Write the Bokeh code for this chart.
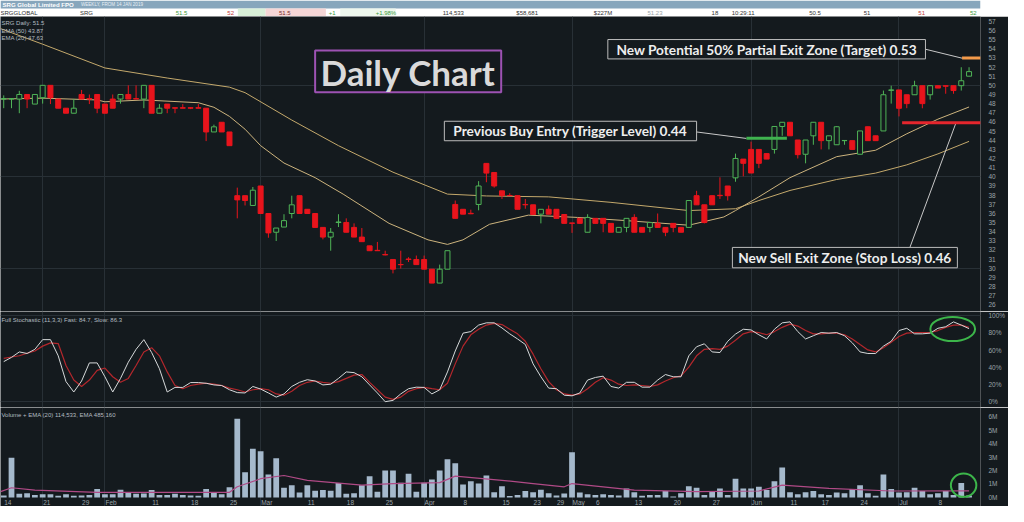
from bokeh.plotting import figure
from bokeh.layouts import column
from bokeh.models import ColumnDataSource, FixedTicker, Range1d, Grid
from bokeh.core.properties import value
from bokeh.embed import file_html
from bokeh.resources import INLINE

# ---------------- data (prices in cents) ----------------
opens = [48.5, 48.5, 48.5, 49.0, 47.95, 48.65, 50.0, 48.5, 47.5, 46.95,
         49.0, 48.55, 49.0, 47.95, 48.5, 48.5, 49.0, 48.55, 48.5, 50.0,
         46.95, 47.95, 47.55, 47.55, 47.55, 47.55, 47.5, 44.9, 45.96, 44.9,
         37.93, 37.93, 36.86, 38.99, 35.98, 33.93, 34.5, 35.98, 37.93, 36.44,
         35.98, 34.46, 33.4, 35.0, 35.0, 34.46, 33.4, 32.44, 31.95, 31.5,
         30.95, 30.4, 31.0, 30.95, 30.95, 29.89, 28.37, 29.89, 36.97, 36.44,
         36.0, 36.97, 41.46, 40.47, 38.46, 37.95, 37.93, 36.97, 36.93, 35.91,
         36.44, 36.44, 35.87, 34.95, 35.45, 33.93, 35.45, 35.45, 34.9, 33.93,
         34.46, 35.55, 34.46, 34.46, 34.9, 34.46, 34.9, 34.46, 34.46, 37.93,
         36.93, 37.93, 37.97, 38.99, 39.88, 41.93, 42.99, 42.99, 42.53, 42.99,
         45.5, 45.96, 44.02, 42.46, 44.48, 45.96, 43.95, 43.5, 43.95, 43.95,
         42.46, 45.47, 44.48, 45.01, 49.45, 49.5, 48.97, 48.97, 49.96, 48.97,
         49.96, 49.96, 49.96, 49.96, 51.0]
highs = [48.9, 48.55, 49.4, 49.0, 49.0, 50.0, 50.0, 48.5, 47.5, 48.5,
         49.5, 49.0, 49.0, 47.95, 49.0, 49.0, 50.0, 50.0, 50.0, 50.0,
         47.95, 47.95, 47.55, 47.95, 47.6, 47.95, 47.5, 45.7, 45.96, 44.9,
         38.81, 37.93, 38.88, 38.99, 35.98, 34.39, 35.9, 37.93, 37.93, 36.44,
         35.98, 34.46, 34.39, 35.9, 35.45, 34.9, 34.39, 32.44, 32.87, 31.91,
         30.95, 31.91, 31.2, 31.38, 31.38, 29.89, 30.39, 31.91, 37.4, 36.44,
         36.4, 39.52, 41.46, 40.47, 38.46, 38.2, 37.93, 37.57, 36.93, 36.44,
         36.86, 36.44, 35.87, 34.95, 35.45, 35.9, 35.45, 35.45, 34.9, 34.46,
         35.45, 35.9, 34.46, 34.99, 35.98, 34.46, 34.9, 34.46, 37.4, 38.46,
         36.93, 37.93, 39.94, 38.99, 42.53, 41.93, 43.84, 42.99, 42.53, 45.54,
         45.96, 45.96, 44.02, 44.02, 45.96, 45.96, 44.48, 45.54, 43.97, 43.95,
         45.01, 45.47, 44.48, 49.43, 49.96, 49.5, 48.97, 50.5, 49.96, 49.96,
         49.96, 49.96, 49.96, 51.98, 51.98]
lows = [47.5, 47.5, 46.95, 47.5, 47.95, 48.0, 47.95, 47.5, 46.95, 46.95,
        48.5, 47.95, 46.95, 46.95, 47.5, 48.0, 48.5, 48.5, 47.5, 46.95,
        46.95, 46.95, 46.95, 47.5, 47.4, 47.5, 43.9, 44.9, 44.9, 43.4,
        35.45, 36.86, 36.86, 35.98, 33.33, 32.97, 34.5, 35.45, 35.98, 35.98,
        34.46, 33.15, 31.91, 34.5, 33.93, 33.4, 32.9, 31.91, 31.91, 31.4,
        29.43, 29.96, 30.67, 30.39, 29.89, 28.37, 28.37, 29.89, 35.45, 35.91,
        35.91, 36.33, 39.4, 38.81, 37.57, 37.9, 36.44, 36.5, 35.87, 34.9,
        35.91, 35.45, 34.9, 33.86, 34.9, 33.93, 34.9, 33.93, 33.93, 33.93,
        33.93, 33.93, 33.93, 33.93, 34.46, 33.5, 33.93, 33.93, 34.46, 36.93,
        34.9, 36.93, 37.57, 37.4, 39.45, 40.05, 40.41, 40.94, 41.93, 42.53,
        44.48, 44.48, 42.0, 41.47, 43.5, 42.99, 42.99, 43.5, 43.5, 42.99,
        42.46, 43.95, 43.95, 45.01, 48.0, 46.6, 47.5, 48.97, 47.49, 48.44,
        49.7, 49.08, 49.08, 49.43, 51.0]
closes = [48.55, 48.55, 49.0, 48.5, 49.0, 50.0, 48.65, 47.5, 46.95, 47.5,
          48.5, 48.5, 47.5, 46.95, 47.5, 49.0, 48.5, 48.5, 50.0, 46.95,
          47.5, 47.5, 47.5, 47.5, 47.5, 47.5, 44.9, 45.46, 44.9, 43.4,
          37.47, 37.4, 38.53, 35.98, 33.86, 34.39, 35.2, 36.93, 35.98, 35.98,
          34.46, 33.4, 33.93, 35.05, 33.93, 33.4, 32.9, 31.91, 31.91, 31.45,
          29.89, 30.38, 30.95, 30.39, 29.89, 28.37, 29.89, 31.91, 35.45, 35.91,
          35.95, 38.99, 40.4, 38.99, 37.93, 37.93, 36.44, 36.93, 35.87, 36.44,
          35.91, 35.45, 34.9, 34.9, 34.9, 35.55, 34.9, 34.9, 33.93, 34.46,
          35.45, 33.93, 33.93, 34.99, 34.46, 33.93, 34.46, 33.93, 37.4, 36.93,
          34.99, 36.93, 37.93, 37.93, 42.0, 41.47, 40.41, 41.47, 41.93, 45.5,
          45.96, 44.48, 42.42, 44.02, 45.96, 43.95, 44.48, 45.47, 43.97, 42.99,
          45.01, 43.95, 43.95, 48.97, 49.5, 47.49, 48.0, 49.96, 48.0, 49.96,
          49.7, 49.9, 49.43, 50.5, 51.5]
volume_m = [0.14, 2.95, 0.27, 0.31, 0.19, 0.24, 0.24, 0.12, 0.24, 0.12,
            0.14, 0.19, 0.63, 0.24, 0.24, 0.58, 0.36, 0.27, 0.29, 0.55,
            0.19, 0.19, 0.27, 0.19, 0.14, 0.12, 0.63, 0.38, 0.24, 0.75,
            5.83, 1.87, 3.62, 3.43, 1.71, 2.9, 0.72, 0.91, 0.36, 0.91,
            0.5, 0.55, 0.5, 1.08, 0.27, 0.31, 0.91, 1.58, 0.43, 1.99,
            1.99, 1.1, 1.75, 0.43, 1.1, 1.34, 1.99, 2.83, 2.54, 0.96,
            1.2, 1.03, 1.63, 0.38, 0.84, 0.1, 0.19, 0.48, 0.38, 0.58,
            0.31, 0.14, 0.29, 3.36, 0.36, 0.24, 0.19, 0.24, 0.19, 0.14,
            0.67, 0.38, 0.12, 0.19, 0.19, 0.48, 0.07, 0.31, 0.84, 0.72,
            0.19, 0.48, 0.67, 0.19, 1.39, 0.67, 0.67, 0.79, 0.55, 1.2,
            2.23, 0.38, 0.24, 0.38, 0.48, 0.24, 0.19, 0.36, 0.31, 0.63,
            0.91, 0.31, 0.12, 1.71, 0.63, 0.36, 0.38, 0.72, 0.48, 0.24,
            0.31, 0.48, 0.19, 1.08, 0.14]
stoch_fast = [46.6, 51.5, 57.8, 56.0, 60.8, 72.0, 72.0, 53.3, 23.5, 11.5,
              24.2, 45.1, 45.1, 29.1, 11.5, 27.2, 45.9, 60.8, 72.0, 57.1,
              38.4, 11.5, 16.8, 16.8, 22.4, 22.4, 21.6, 19.7, 19.0, 14.1,
              10.8, 10.4, 17.9, 14.9, 10.4, 5.6, 9.3, 17.9, 22.7, 25.7,
              24.2, 19.7, 20.5, 27.2, 34.7, 33.9, 29.1, 19.7, 10.4, 0.3,
              1.8, 9.3, 15.3, 17.1, 16.8, 9.3, 14.1, 34.7, 58.9, 79.5,
              81.3, 88.8, 91.4, 91.4, 85.5, 78.7, 72.8, 66.4, 44.0, 29.1,
              16.0, 15.3, 7.8, 7.1, 10.4, 25.3, 28.3, 29.8, 17.9, 16.0,
              22.7, 22.7, 17.1, 17.1, 25.3, 31.7, 29.1, 29.1, 53.3, 63.8,
              67.2, 57.8, 57.1, 70.1, 78.4, 84.0, 83.2, 77.6, 72.8, 84.0,
              91.4, 92.5, 81.3, 72.8, 76.5, 80.2, 79.5, 80.2, 76.5, 68.3,
              57.8, 56.0, 56.0, 64.5, 70.1, 82.5, 85.1, 78.7, 78.7, 79.5,
              85.1, 86.9, 92.5, 88.8, 84.7]
stoch_slow = [50.4, 51.9, 53.4, 56.3, 58.9, 64.5, 68.3, 67.5, 42.1, 25.3,
              17.9, 25.3, 36.5, 39.2, 29.1, 22.7, 27.2, 42.1, 57.8, 62.7,
              53.3, 34.7, 19.0, 15.3, 19.0, 20.5, 21.6, 20.5, 19.0, 16.0,
              14.1, 11.5, 14.1, 15.3, 14.1, 9.3, 7.8, 12.3, 19.0, 22.7,
              24.2, 22.7, 21.6, 23.5, 27.2, 31.0, 31.7, 22.7, 14.1, 5.6,
              3.0, 5.6, 12.3, 15.3, 16.8, 15.3, 14.1, 21.6, 44.0, 64.5,
              77.6, 83.9, 88.8, 90.7, 89.4, 84.0, 78.7, 70.1, 55.2, 38.4,
              23.5, 14.1, 9.3, 7.8, 9.3, 15.3, 22.7, 28.0, 25.3, 20.5,
              19.0, 19.7, 19.0, 17.9, 19.7, 24.2, 28.0, 30.2, 40.3, 53.3,
              60.8, 61.6, 60.8, 64.5, 71.3, 78.7, 81.3, 80.2, 77.6, 81.3,
              86.2, 89.9, 87.7, 82.5, 78.7, 78.7, 79.5, 79.5, 77.6, 72.8,
              66.4, 60.1, 57.8, 62.7, 69.0, 75.7, 79.5, 80.2, 80.2, 80.2,
              82.5, 86.2, 88.8, 88.8, 86.3]
ema50_idx = [-0.4, 5, 13, 21, 29, 31, 37, 43, 50, 57, 62, 70, 78, 88, 94, 97, 101, 107, 112, 116, 120, 124]
ema50 = [56.2, 54.5, 51.9, 50.8, 49.8, 49.2, 46.2, 43.4, 40.5, 38.1, 37.9, 37.8, 37.2, 36.3, 36.5,
         37.4, 38.5, 39.7, 40.4, 41.3, 42.5, 43.87]
ema20_idx = [-0.4, 5, 12, 13, 18, 25, 27, 29, 31, 33, 36, 40, 43.6, 49.5, 54.5, 57, 59, 62.4,
             67.4, 73.7, 80, 88, 92.5, 94, 97, 101, 107, 112, 116, 120, 124]
ema20 = [48.5, 48.6, 48.4, 48.2, 48.4, 48.1, 47.6, 46.6, 45.2, 43.4, 41.5, 39.9, 38.1, 34.9, 33.1,
         32.6, 33.1, 34.8, 35.8, 35.55, 35.2, 34.7, 35.6, 36.3, 37.8, 39.9, 42.2, 42.9, 44.7, 46.3, 47.63]
vol_ema_idx = [-0.4, 1, 4, 12, 21, 29, 30, 33, 36, 39, 46, 50, 56, 58, 64, 68, 72, 73, 81, 89, 97, 100, 106, 114, 124]
vol_ema = [0.43, 0.72, 0.55, 0.38, 0.38, 0.38, 0.79, 1.39, 1.63, 1.27, 0.91, 1.03, 1.1, 1.58, 1.27,
           1.03, 0.79, 1.03, 0.55, 0.43, 0.48, 0.91, 0.67, 0.48, 0.485]

date_labels = ["14", "21", "29", "Feb", "11", "18", "25", "Mar", "11", "18", "25", "Apr", "8",
               "15", "23", "29", "May", "6", "13", "20", "27", "Jun", "11", "17", "24", "Jul", "8"]
date_idx = [0, 5, 10, 13, 19, 24, 29, 33, 39, 44, 49, 54, 59, 64, 68, 71, 73, 76, 81, 86, 91, 96,
            101, 105, 110, 115, 120]
grid_idx = [5, 13, 33, 54, 73, 96, 115]
price_ticks = list(range(26, 58))
stoch_ticks = [0, 20, 40, 60, 80, 100]
vol_ticks = [0, 1, 2, 3, 4, 5, 6]

# trade levels and annotations
level_names = ["target", "buy", "stop"]
level_price = [53.0, 44.2, 45.9]
level_from = [123.1, 95.4, 115.4]
level_to = [125.5, 100.6, 125.5]
level_color = ["#f39a4a", "#3fb34f", "#e5262d"]
ann_text = ["New Potential 50% Partial Exit Zone (Target) 0.53",
            "Previous Buy Entry (Trigger Level) 0.44",
            "New Sell Exit Zone (Stop Loss) 0.46"]
ann_left = [77.6, 56.6, 93.6]
ann_right = [118.4, 89.0, 122.5]
ann_bottom = [52.89, 43.94, 30.04]
ann_top = [55.01, 46.07, 32.27]
conn_x0 = [118.4, 89.0, 116.4]
conn_y0 = [53.95, 44.9, 32.27]
conn_x1 = [123.1, 95.4, 122.3]
conn_y1 = [52.97, 44.19, 45.85]

# header strip
hdr_title = "SRG Global Limited FPO"
hdr_sub = "WEEKLY, FROM 14 JAN 2019"
quote_text = ["SRGGLOBAL", "SRG", "51.5", "52", "51.5", "+1", "+1.98%", "114,533", "$58,681",
              "$227M", "51.23", "18", "10:29:11", "50.5", "51", "51", "52"]
quote_x = [0, 83, 183, 237, 291, 343, 392, 462, 539, 620, 676, 743, 764, 845, 902, 959, 1013]
quote_color = ["#333333", "#333333", "#3c9a3c", "#c23b3b", "#7a2a2a", "#3c9a3c", "#3c9a3c",
               "#333333", "#333333", "#333333", "#9aa4a8", "#333333", "#333333", "#333333",
               "#333333", "#c23b3b", "#3c9a3c"]

BG = "#141a1e"
GRID = "#283036"
AX = "#9ba3a8"
FW = 1008
RB = 22
xr = Range1d(-0.415, 125.47)


def panel(h, y0, y1, ticks):
    f = figure(width=FW, height=h, x_range=xr, y_range=Range1d(y0, y1),
               output_backend="svg", toolbar_location=None,
               x_axis_location=None, y_axis_location="right",
               min_border_left=0, min_border_right=RB, min_border_top=0, min_border_bottom=0,
               background_fill_color=BG, border_fill_color=BG, outline_line_color=None)
    f.xgrid.visible = False
    f.ygrid.visible = False
    f.add_layout(Grid(dimension=0, ticker=FixedTicker(ticks=grid_idx),
                      grid_line_color=GRID, grid_line_width=1))
    ax = f.yaxis[0]
    ax.ticker = FixedTicker(ticks=ticks)
    ax.axis_line_color = None
    ax.major_tick_line_color = None
    ax.minor_tick_line_color = None
    ax.major_label_text_color = AX
    ax.major_label_text_font = "Liberation Sans"
    ax.major_label_text_font_size = "6.5px"
    ax.major_label_standoff = 2
    return f


idx = list(range(len(closes)))

# ---------------- header ----------------
hd = figure(width=FW, height=16, x_range=Range1d(0, 1024), y_range=Range1d(17, 0),
            output_backend="svg", toolbar_location=None, x_axis_location=None,
            y_axis_location=None, min_border=0, outline_line_color=None,
            background_fill_color="#ffffff", border_fill_color="#ffffff")
hd.grid.visible = False
hd.quad(left=[0], right=[1024], top=[0], bottom=[8.5], fill_color="#87a6bc", line_color=None)
hd.quad(left=[248, 277, 355], right=[277, 340, 413], top=[8.5] * 3, bottom=[17] * 3,
        fill_color=["#d9f0d9", "#f5d6d6", "#eef7ee"], line_color=None)
hd.text(x=[2], y=[4.4], text=[hdr_title], text_font=value("Liberation Sans"), text_font_style="bold",
        text_font_size="6.1px", text_color="#ffffff", text_baseline="middle")
hd.text(x=[84], y=[4.6], text=[hdr_sub], text_font=value("Liberation Sans"),
        text_font_size="4.6px", text_color="#e8f0f6", text_baseline="middle")
hd.text(x=quote_x, y=[12.9] * len(quote_x), text=quote_text, text_font=value("Liberation Sans"),
        text_font_size="6px", text_color=quote_color, text_baseline="middle")

# ---------------- price panel ----------------
pp = panel(295, 25.26, 57.53, price_ticks)
pp.add_layout(Grid(dimension=1, ticker=FixedTicker(ticks=[30, 40, 50]),
                   grid_line_color=GRID, grid_line_width=1))

up = [i for i in idx if closes[i] >= opens[i]]
dn = [i for i in idx if closes[i] < opens[i]]
src_up = ColumnDataSource(dict(x=up, o=[opens[i] for i in up], c=[closes[i] for i in up],
                               h=[highs[i] for i in up], l=[lows[i] for i in up]))
src_dn = ColumnDataSource(dict(x=dn, o=[opens[i] for i in dn], c=[closes[i] for i in dn],
                               h=[highs[i] for i in dn], l=[lows[i] for i in dn]))
GREEN = "#4fb457"
RED = "#e8141c"
pp.line(ema50_idx, ema50, line_color="#c4a96c", line_width=1)
pp.line(ema20_idx, ema20, line_color="#cdb47e", line_width=1)
pp.segment(x0="x", y0="h", x1="x", y1="l", source=src_up, line_color=GREEN, line_width=1)
pp.segment(x0="x", y0="h", x1="x", y1="l", source=src_dn, line_color=RED, line_width=1)
pp.vbar(x="x", top="c", bottom="o", width=0.64, source=src_up, fill_color=BG, line_color=GREEN, line_width=1)
pp.vbar(x="x", top="o", bottom="c", width=0.64, source=src_dn, fill_color=RED, line_color=RED, line_width=1)

pp.segment(x0=conn_x0, y0=conn_y0, x1=conn_x1, y1=conn_y1, line_color="#c8c8c8", line_width=1)
pp.segment(x0=level_from, y0=level_price, x1=level_to, y1=level_price, line_color=level_color, line_width=3)
pp.quad(left=ann_left, right=ann_right, bottom=ann_bottom, top=ann_top, fill_color=BG,
        line_color="#bcbcbc", line_width=1)
pp.text(x=[(a + b) / 2 for a, b in zip(ann_left, ann_right)],
        y=[(a + b) / 2 for a, b in zip(ann_bottom, ann_top)], text=ann_text,
        text_font=value("Lato"), text_font_style="bold", text_font_size="13.7px",
        text_color="#eeeeee", text_align="center", text_baseline="middle")
# "Daily Chart" title box
pp.quad(left=[40.0], right=[63.9], bottom=[49.25], top=[53.82], fill_color=BG,
        line_color="#9d52b3", line_width=2)
pp.text(x=[51.95], y=[51.45], text=["Daily Chart"], text_font=value("Lato"), text_font_style="bold",
        text_font_size="35px", text_color="#dadada", text_align="center", text_baseline="middle")
pp.text(x=[-0.3, -0.3, -0.3], y=[56.79, 55.91, 55.16],
        text=["SRG Daily: 51.5", "EMA (50) 43.87", "EMA (20) 47.63"],
        text_font=value("Liberation Sans"), text_font_size="6px", text_color="#b3bbc0",
        text_baseline="middle")

# ---------------- stochastic panel ----------------
sp = panel(96, -6.4, 104.5, stoch_ticks)
sp.yaxis[0].major_label_overrides = {t: f"{t}%" for t in stoch_ticks}
sp.add_layout(Grid(dimension=1, ticker=FixedTicker(ticks=[0, 100]),
                   grid_line_color=GRID, grid_line_width=1))
sp.line(idx, stoch_slow, line_color="#b3272c", line_width=1.2)
sp.line(idx, stoch_fast, line_color="#d6d9da", line_width=1)
sp.ellipse(x=[121.9], y=[84.3], width=[5.74], height=[28], fill_color=None,
           line_color="#3cb54a", line_width=2)
sp.text(x=[-0.3], y=[94.4], text=["Full Stochastic (11,3,3) Fast: 84.7, Slow: 86.3"],
        text_font=value("Liberation Sans"), text_font_size="6px", text_color="#b3bbc0",
        text_baseline="middle")

# ---------------- volume panel ----------------
vp = panel(99, -0.67, 6.67, vol_ticks)
vp.yaxis[0].major_label_overrides = {t: f"{t}M" for t in vol_ticks}
vp.vbar(x=idx, top=volume_m, bottom=0, width=0.74, fill_color="#a5b9cc", line_color=None)
vp.line(vol_ema_idx, vol_ema, line_color="#b04a86", line_width=1.2)
vp.ellipse(x=[123.3], y=[0.91], width=[3.27], height=[1.73], fill_color=None,
           line_color="#3cb54a", line_width=2)
vp.text(x=[-0.3], y=[6.09], text=["Volume + EMA (20) 114,533, EMA 485,160"],
        text_font=value("Liberation Sans"), text_font_size="6px", text_color="#b3bbc0",
        text_baseline="middle")
vp.text(x=date_idx, y=[-0.345] * len(date_idx), text=date_labels,
        text_font=value("Liberation Sans"), text_font_size="6.5px", text_color="#9ba3a8",
        text_baseline="middle", text_align="left", x_offset=0.5)

layout = column(hd, pp, sp, vp, spacing=0)
open("out.html", "w").write(file_html(layout, INLINE))
